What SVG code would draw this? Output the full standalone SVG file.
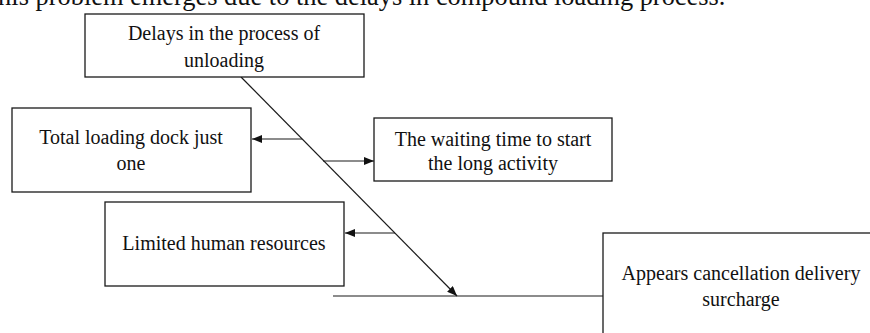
<svg xmlns="http://www.w3.org/2000/svg" width="870" height="333" viewBox="0 0 870 333">
<defs>
<style>
.box{fill:#fff;stroke:#1a1a1a;stroke-width:1.3}
.t{font-family:"Liberation Serif","Times New Roman",serif;font-size:20px;fill:#111;text-anchor:middle}
.ln{stroke:#1a1a1a;stroke-width:1.2;fill:none}
</style>
<marker id="ah" viewBox="0 0 10 8" refX="10" refY="4" markerWidth="10" markerHeight="8" markerUnits="userSpaceOnUse" orient="auto">
<path d="M0,0 L10,4 L0,8 Z" fill="#111"/>
</marker>
</defs>
<rect width="870" height="333" fill="#fff"/>
<text x="-18" y="5" style="font-family:'Liberation Serif','Times New Roman',serif;font-size:26.4px;fill:#111">This problem emerges due to the delays in compound loading process.</text>
<g id="connectors">
<line class="ln" x1="241" y1="77" x2="457" y2="296" marker-end="url(#ah)"/>
<line class="ln" x1="333" y1="296" x2="603" y2="296"/>
<line class="ln" x1="302" y1="139" x2="252" y2="139" marker-end="url(#ah)"/>
<line class="ln" x1="323" y1="161" x2="374" y2="161" marker-end="url(#ah)"/>
<line class="ln" x1="395" y1="233" x2="345" y2="233" marker-end="url(#ah)"/>
</g>
<g id="delays">
<rect class="box" x="85" y="14" width="279" height="63"/>
<text class="t" x="224" y="40">Delays in the process of</text>
<text class="t" x="224" y="67">unloading</text>
</g>
<g id="dock">
<rect class="box" x="12" y="108" width="239" height="84"/>
<text class="t" x="131" y="144">Total loading dock just</text>
<text class="t" x="131" y="170">one</text>
</g>
<g id="waiting">
<rect class="box" x="374" y="118" width="238" height="63"/>
<text class="t" x="493" y="146">The waiting time to start</text>
<text class="t" x="493" y="170">the long activity</text>
</g>
<g id="human">
<rect class="box" x="105" y="202" width="239" height="84"/>
<text class="t" x="224" y="250">Limited human resources</text>
</g>
<g id="effect">
<rect class="box" x="603" y="233" width="300" height="150"/>
<text class="t" x="741" y="280">Appears cancellation  delivery</text>
<text class="t" x="741" y="306">surcharge</text>
</g>
</svg>
